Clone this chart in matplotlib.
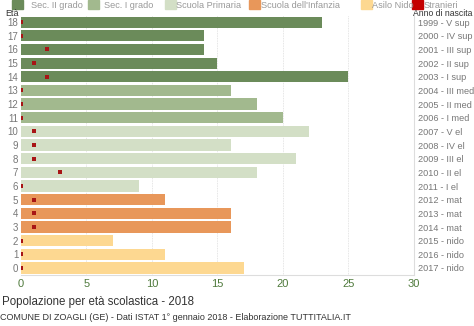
import numpy as np
import matplotlib.pyplot as plt
from matplotlib.patches import Rectangle

plt.rcParams['font.family'] = ['Liberation Sans', 'DejaVu Sans']

# ages 0..18 (bottom to top)
ages = list(range(19))
totals = [17, 11, 7, 16, 16, 11, 9, 18, 21, 16, 22, 20, 18, 16, 25, 15, 14, 14, 23]
stranieri = [0, 0, 0, 1, 1, 1, 0, 3, 1, 1, 1, 0, 0, 0, 2, 1, 2, 0, 0]
anno = ["2017 - nido", "2016 - nido", "2015 - nido", "2014 - mat", "2013 - mat",
        "2012 - mat", "2011 - I el", "2010 - II el", "2009 - III el", "2008 - IV el",
        "2007 - V el", "2006 - I med", "2005 - II med", "2004 - III med", "2003 - I sup",
        "2002 - II sup", "2001 - III sup", "2000 - IV sup", "1999 - V sup"]
groups = ["Sec. II grado", "Sec. I grado", "Scuola Primaria", "Scuola dell'Infanzia", "Asilo Nido"]
group_of_age = [4, 4, 4, 3, 3, 3, 2, 2, 2, 2, 2, 1, 1, 1, 0, 0, 0, 0, 0]
colors = ["#6b8b5a", "#a2b98e", "#d3dfc6", "#e8975a", "#fdd891"]
red = "#a81515"

W, H = 474, 326
fig = plt.figure(figsize=(W / 100, H / 100), dpi=100)
ax = fig.add_axes([0.0443, 0.157, 0.829, 0.796])

bar_cols = [colors[g] for g in group_of_age]
ax.barh(ages, totals, height=0.82, color=bar_cols, zorder=2)
ax.scatter(stranieri, ages, marker='s', s=9, color=red, zorder=3, linewidths=0)

ax.set_xlim(0, 30)
ax.set_ylim(-0.5, 18.5)
ax.set_xticks([0, 5, 10, 15, 20, 25, 30])
ax.set_yticks(ages)
ax.set_yticklabels([str(a) for a in ages])
ax.tick_params(axis='x', labelcolor='#4f7a3c', labelsize=8, length=0, pad=3)
ax.tick_params(axis='y', labelcolor='#777777', labelsize=7, length=0, pad=2)
for x in [5, 10, 15, 20, 25]:
    ax.axvline(x, color='#dddddd', lw=0.6, ls=(0, (1, 1)), zorder=1)
for s in ['top', 'left']:
    ax.spines[s].set_visible(False)
ax.spines['right'].set_color('#dddddd')
ax.spines['bottom'].set_color('#dddddd')

# right-hand labels
ax2 = ax.twinx()
ax2.set_ylim(-0.5, 18.5)
ax2.set_yticks(ages)
ax2.set_yticklabels(anno)
ax2.tick_params(axis='y', labelcolor='#777777', labelsize=6.6, length=0, pad=3)
for s in ax2.spines.values():
    s.set_visible(False)

fig.text(5 / W, 1 - 13 / H, "Età", fontsize=6.5, color='#333333', va='center')
fig.text(413 / W, 1 - 13 / H, "Anno di nascita", fontsize=6.2, color='#333333', va='center')

# legend row across the top
patch_x = [12, 88, 165, 249, 361, 412]
text_x = [31, 104, 176, 261, 372, 424]
leg_cols = colors + ["#c40000"]
for px, tx, c, lab in zip(patch_x, text_x, leg_cols, groups + ["Stranieri"]):
    fig.patches.append(Rectangle((px / W, 1 - 9 / H), 11 / W, 9 / H, color=c,
                                 transform=fig.transFigure, figure=fig))
    fig.text(tx / W, 1 - 5 / H, lab, fontsize=6.6, color='#999999', va='center')

fig.text(2 / W, 1 - 302 / H, "Popolazione per età scolastica - 2018", fontsize=8.3,
         color='#333333', va='center')
fig.text(0.0, 1 - 318 / H,
         "COMUNE DI ZOAGLI (GE) - Dati ISTAT 1° gennaio 2018 - Elaborazione TUTTITALIA.IT",
         fontsize=6.5, color='#333333', va='center')

fig.savefig("out.png", dpi=100)
